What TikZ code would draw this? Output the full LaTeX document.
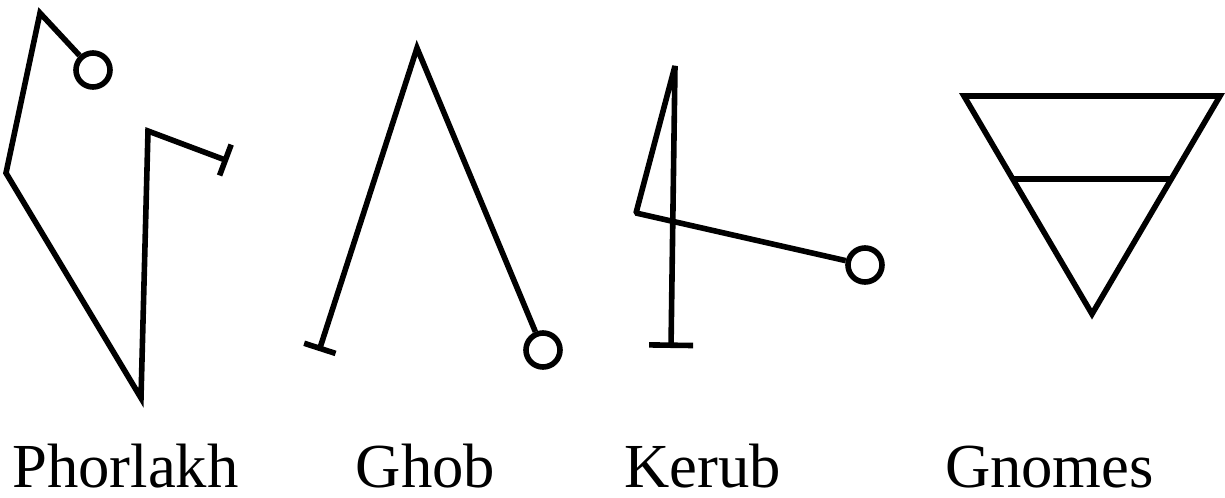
\documentclass[tikz,border=0pt]{standalone}
\usepackage{fontspec}
\setmainfont{Liberation Serif}
\usetikzlibrary{arrows.meta,calc}

\tikzset{
  sigil/.style={line width=4.2pt, line join=miter},
  ring/.style={circle, draw, line width=4.2pt, minimum size=25.5pt, inner sep=0pt},
  tee/.style={-{Bar[width=#1]}},
  tee/.default=24.75pt,
  sigil name/.style={anchor=base, inner sep=0pt, font=\fontsize{47}{52}\selectfont}
}

\begin{document}
\begin{tikzpicture}[x=0.75pt,y=0.75pt,yscale=-1,xscale=1]
\useasboundingbox (0,0) rectangle (1225,497);

%Shape: Phorlakh
\node [ring] (phRing) at (93,70) {};
\coordinate (ph1) at (40,13);
\coordinate (ph2) at (6,173);
\coordinate (ph3) at (141,398);
\coordinate (ph4) at (148,131);
\coordinate (phEnd) at (228,161);
\draw [sigil,tee] (phRing) -- (ph1) -- (ph2) -- (ph3) -- (ph4) -- (phEnd) ;

%Shape: Ghob
\node [ring] (ghRing) at (543,350) {};
\coordinate (gh1) at (417,48);
\coordinate (ghEnd) at (319,351);
\draw [sigil,tee] (ghRing) -- (gh1) -- (ghEnd) ;

%Shape: Kerub
\node [ring] (keRing) at (865,265) {};
\coordinate (ke1) at (636,213);
\coordinate (ke2) at (675,66);
\coordinate (keEnd) at (671,348);
\draw [sigil,line join=bevel,tee=33pt] (keRing) -- (ke1) -- (ke2) -- (keEnd) ;

%Shape: Gnomes
\coordinate (gn1) at (964,96);
\coordinate (gn2) at (1220,96);
\coordinate (gn3) at (1092,314);
\draw [sigil] (gn1) -- (gn2) -- (gn3) -- cycle ;
%Straight Lines
\draw [sigil] ($(gn1)!0.381!(gn3)$) -- ($(gn2)!0.381!(gn3)$) ;

% Text Node
\node [sigil name] (phorlakh) at (125.5,487) {Phorlakh};
% Text Node
\node [sigil name] (ghob) at (425.5,487) {Ghob};
% Text Node
\node [sigil name] (kerub) at (702.5,487) {Kerub};
% Text Node
\node [sigil name] (gnomes) at (1049.5,487) {Gnomes};

\end{tikzpicture}
\end{document}
